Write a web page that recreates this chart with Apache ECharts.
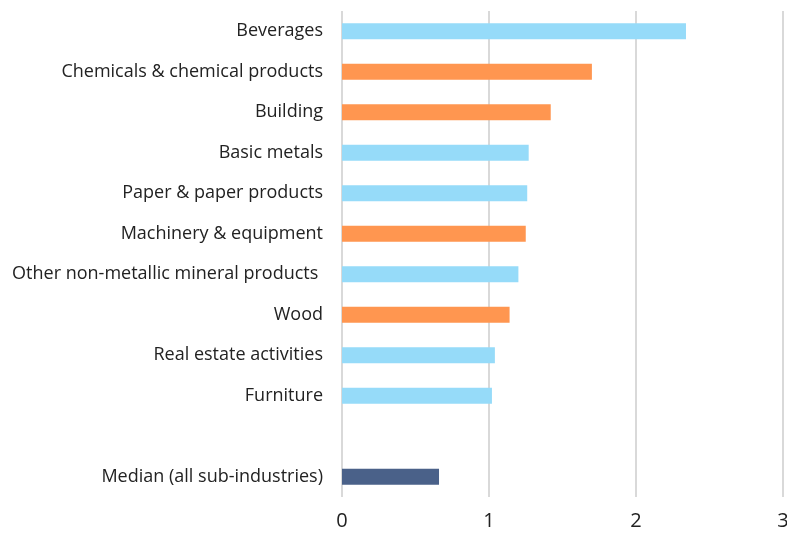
<!DOCTYPE html>
<html>
<head>
<meta charset="utf-8">
<script src="https://cdn.jsdelivr.net/npm/echarts@6/dist/echarts.min.js"></script>
<style>html,body{margin:0;padding:0;background:#fff}#c{width:787px;height:534px}</style>
</head>
<body>
<div id="c"></div>
<script>
const categories = ["Beverages","Chemicals & chemical products","Building","Basic metals","Paper & paper products","Machinery & equipment","Other non-metallic mineral products ","Wood","Real estate activities","Furniture"," ","Median (all sub-industries)"];
const values = [2.34,1.70,1.42,1.27,1.26,1.25,1.20,1.14,1.04,1.02,null,0.66];
const groups = ["blue","orange","orange","blue","blue","orange","blue","orange","blue","blue","none","median"];
const xTicks = [0,1,2,3];
const palette = {blue:"#96DBF9", orange:"#FF9650", median:"#4A6189", none:"#ffffff"};

const chart = echarts.init(document.getElementById('c'), null, {renderer:'canvas'});
chart.setOption({
  animation:false,
  grid:{left:342,right:4,top:11,bottom:37,containLabel:false,outerBoundsMode:'none'},
  xAxis:{type:'value',min:xTicks[0],max:xTicks[xTicks.length-1],interval:1,
    axisLine:{show:false},axisTick:{show:false},
    splitLine:{show:true,lineStyle:{color:'#d9d9d9',width:2}},
    axisLabel:{fontFamily:'Open Sans',fontSize:20,color:'#222',margin:14,showMaxLabel:true}},
  yAxis:{type:'category',inverse:true,data:categories,
    axisLine:{show:false},axisTick:{show:false},
    axisLabel:{fontFamily:'Open Sans',fontSize:18,color:'#222',margin:19}},
  series:[{type:'bar',barWidth:16,
    data:values.map((v,i)=>({value:v,itemStyle:{color:palette[groups[i]]}}))}]
});
</script>
</body>
</html>
